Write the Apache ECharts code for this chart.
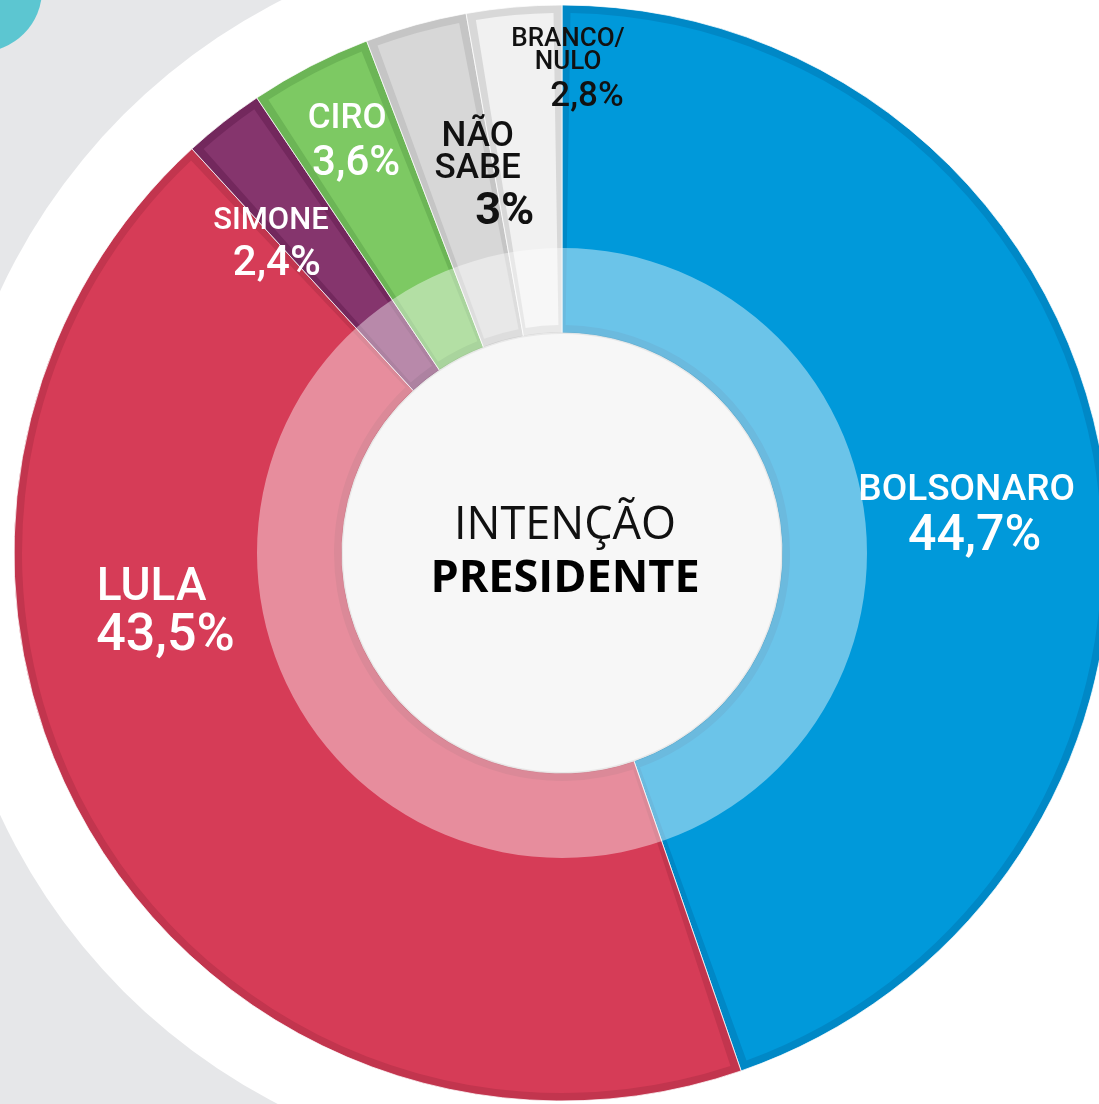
<!DOCTYPE html>
<html>
<head>
<meta charset="utf-8">
<title>Intenção presidente</title>
<script src="https://cdn.jsdelivr.net/npm/echarts@6.0.0/dist/echarts.min.js"></script>
<style>
html, body { margin: 0; padding: 0; background: #fff; }
#chartBox { width: 1099px; height: 1104px; }
</style>
</head>
<body>
<div id="chartBox"></div>
<script>
// dados da pesquisa
const candidatos = ['BOLSONARO', 'LULA', 'SIMONE', 'CIRO', 'NÃO\nSABE', 'BRANCO/\nNULO'];
const percentuais = [44.7, 43.5, 2.4, 3.6, 3, 2.8];

// cores de cada fatia
const corFatia = ['#0099da', '#d63c57', '#85356d', '#7dc963', '#d7d7d7', '#f1f1f1'];
const corBorda = ['#0088c6', '#c2354e', '#73285d', '#6cb556', '#c5c5c5', '#d8d8d8'];
const corTexto = ['#fff', '#fff', '#fff', '#fff', '#111', '#111'];

// rótulos: [fonte nome, altura linha nome, fonte valor, altura linha valor, recuo valor]
const estiloRotulo = [
    [37, 42, 50, 52, 16],
    [46, 46, 52, 52, 28],
    [31, 36, 42, 50, 12],
    [35, 40, 42, 50, 18],
    [35, 32, 45, 56, 54],
    [26, 23, 35, 47, 38]
];
const deslocRotulo = [[23, 28], [-78, -137], [-52, -2], [-37, -65], [19, 1], [40, -93]];
const valorNegrito = [false, false, false, false, true, false];

const centro = [562, 553];

const chartDom = document.getElementById('chartBox');
const myChart = echarts.init(chartDom);

const dadosBorda = candidatos.map((nome, i) => ({
    name: nome,
    value: percentuais[i],
    itemStyle: { color: corBorda[i] }
}));

const dadosFatia = candidatos.map((nome, i) => {
    const e = estiloRotulo[i];
    return {
        name: nome,
        value: percentuais[i],
        itemStyle: { color: corFatia[i] },
        label: {
            rich: {
                n: {
                    fontFamily: 'Roboto', fontSize: e[0], lineHeight: e[1],
                    fontWeight: 500,
                    color: corTexto[i], align: 'center'
                },
                v: {
                    fontFamily: 'Roboto', fontSize: e[2], lineHeight: e[3],
                    fontWeight: valorNegrito[i] ? 'bold' : 500,
                    color: corTexto[i], align: 'center',
                    padding: [0, 0, 0, e[4]]
                }
            }
        }
    };
});

let option = {
    animation: false,
    backgroundColor: '#fff',
    graphic: [
        { type: 'circle', z: 0, silent: true, shape: { cx: 150, cy: 553, r: 720 }, style: { fill: '#e6e7e9' } },
        { type: 'circle', z: 1, silent: true, shape: { cx: centro[0], cy: centro[1], r: 620 }, style: { fill: '#fff' } },
        { type: 'circle', z: 1, silent: true, shape: { cx: -20, cy: -10, r: 62 }, style: { fill: '#5cc6d1' } },
        {
            type: 'circle', z: 10, silent: true,
            shape: { cx: centro[0], cy: centro[1], r: 220 },
            style: { fill: '#f7f7f7', stroke: 'rgba(0,0,0,0.06)', lineWidth: 2 }
        },
        {
            type: 'text', z: 11, silent: true, x: 565, y: 526,
            style: {
                text: 'INTENÇÃO', fill: '#111', font: '45px "Open Sans"',
                textAlign: 'center', textVerticalAlign: 'middle'
            }
        },
        {
            type: 'text', z: 11, silent: true, x: 565, y: 579,
            style: {
                text: 'PRESIDENTE', fill: '#000', font: 'bold 45px "Open Sans"',
                textAlign: 'center', textVerticalAlign: 'middle'
            }
        }
    ],
    series: [
        {
            // borda escura de cada fatia
            type: 'pie',
            z: 2,
            silent: true,
            center: centro,
            radius: [220, 548],
            startAngle: 90,
            clockwise: true,
            label: { show: false },
            labelLine: { show: false },
            itemStyle: { borderColor: 'rgba(255,255,255,0.75)', borderWidth: 1 },
            data: dadosBorda
        },
        {
            type: 'pie',
            z: 3,
            silent: true,
            center: centro,
            radius: [228, 540],
            startAngle: 90,
            clockwise: true,
            padAngle: 1.8,
            avoidLabelOverlap: false,
            labelLine: { show: false },
            label: {
                show: true,
                position: 'inside',
                rotate: 0,
                formatter: function (p) {
                    return '{n|' + p.name + '}\n{v|' + String(p.value).replace('.', ',') + '%}';
                }
            },
            labelLayout: function (params) {
                const d = deslocRotulo[params.dataIndex];
                return { dx: d[0], dy: d[1] };
            },
            data: dadosFatia
        },
        {
            // anel interno mais claro
            type: 'pie',
            z: 4,
            silent: true,
            center: centro,
            radius: [220, 305],
            label: { show: false },
            labelLine: { show: false },
            itemStyle: { color: 'rgba(255,255,255,0.42)' },
            data: [{ name: 'anel', value: 1 }]
        }
    ]
};
myChart.setOption(option);
</script>
</body>
</html>
